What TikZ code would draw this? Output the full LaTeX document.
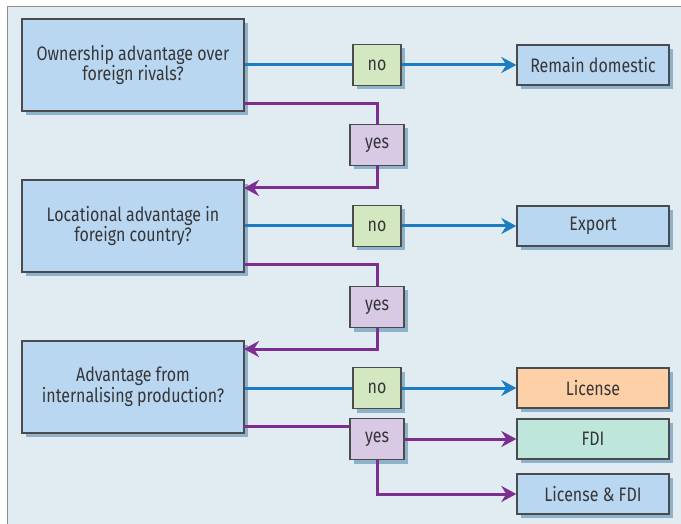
\documentclass[tikz,border=0pt]{standalone}
\usepackage{fontspec}
\setmainfont{Fira Sans}[FakeStretch=0.82]
\usetikzlibrary{shadows,arrows.meta}
\definecolor{panelbg}{HTML}{E1EBF2}
\definecolor{panelline}{HTML}{8A8F94}
\definecolor{boxblue}{HTML}{BAD7F1}
\definecolor{nogreen}{HTML}{D3E8C0}
\definecolor{yespurple}{HTML}{D8C9E5}
\definecolor{licorange}{HTML}{FDD0A8}
\definecolor{fdigreen}{HTML}{BEE6DB}
\definecolor{edgegray}{HTML}{4B4B4D}
\definecolor{shadowc}{HTML}{8DB2C9}
\definecolor{noline}{HTML}{1C7DC3}
\definecolor{yesline}{HTML}{7D2F91}
\definecolor{textc}{HTML}{363638}
\tikzset{
  x=1pt, y=-1pt,
  base/.style={draw=edgegray, line width=1.4pt, text=textc, inner sep=0pt,
    align=center, font=\fontsize{19.5}{20.5}\selectfont,
    drop shadow={shadow xshift=4pt, shadow yshift=-4pt, fill=shadowc, opacity=1}},
  question/.style={base, fill=boxblue, minimum width=222pt, minimum height=92pt},
  nobox/.style={base, fill=nogreen, minimum width=48pt, minimum height=41pt},
  yesbox/.style={base, fill=yespurple, minimum width=54pt, minimum height=41pt},
  outcome/.style={base, minimum width=152pt, minimum height=40pt},
  tip/.style={-{Stealth[length=15pt,width=16pt,inset=5pt]}},
  noline/.style={draw=noline, line width=3pt},
  noarrow/.style={noline, tip},
  yesline/.style={draw=yesline, line width=3pt},
  yesarrow/.style={yesline, tip},
}
\begin{document}
\begin{tikzpicture}
% page and background panel
\useasboundingbox (0,0) rectangle (681,524);
\fill[white] (0,0) rectangle (681,524);
\fill[panelbg] (7,7) rectangle (681,524);
\draw[panelline, line width=1pt] (7,524) -- (7,7) -- (681,7);

% question boxes
\node[question] (q1) at (133,65)  {Ownership advantage over\\foreign rivals?};
\node[question] (q2) at (133,226) {Locational advantage in\\foreign country?};
\node[question] (q3) at (133,387) {Advantage from\\internalising production?};

% no / yes decision tags
\node[nobox]  (n1) at (377,65)  {no};
\node[yesbox] (y1) at (377,145) {yes};
\node[nobox]  (n2) at (377,226) {no};
\node[yesbox] (y2) at (377,307) {yes};
\node[nobox]  (n3) at (377,388) {no};
\node[yesbox] (y3) at (377,439) {yes};

% outcomes
\node[outcome, fill=boxblue]   (o1) at (593,65)  {Remain domestic};
\node[outcome, fill=boxblue]   (o2) at (593,226) {Export};
\node[outcome, fill=licorange] (o3) at (593,388) {License};
\node[outcome, fill=fdigreen]  (o4) at (593,439) {FDI};
\node[outcome, fill=boxblue]   (o5) at (593,494) {License \& FDI};

% "no" branches
\draw[noline]  (q1.east) -- (n1.west);
\draw[noarrow] (n1.east) -- (o1.west);
\draw[noline]  (q2.east) -- (n2.west);
\draw[noarrow] (n2.east) -- (o2.west);
\draw[noline]  (q3.east |- n3) -- (n3.west);
\draw[noarrow] (n3.east) -- (o3.west);

% "yes" branches
\coordinate (a1) at (244,104);
\coordinate (b1) at (244,188);
\draw[yesline]  (a1) -| (y1.north);
\draw[yesarrow] (y1.south) |- (b1);
\coordinate (a2) at (244,265);
\coordinate (b2) at (244,349);
\draw[yesline]  (a2) -| (y2.north);
\draw[yesarrow] (y2.south) |- (b2);
\coordinate (a3) at (244,426);
\draw[yesline]  (a3) -- (a3 -| y3.west);
\draw[yesarrow] (y3.east) -- (o4.west);
\draw[yesarrow] (y3.south) |- (o5.west);
\end{tikzpicture}
\end{document}
